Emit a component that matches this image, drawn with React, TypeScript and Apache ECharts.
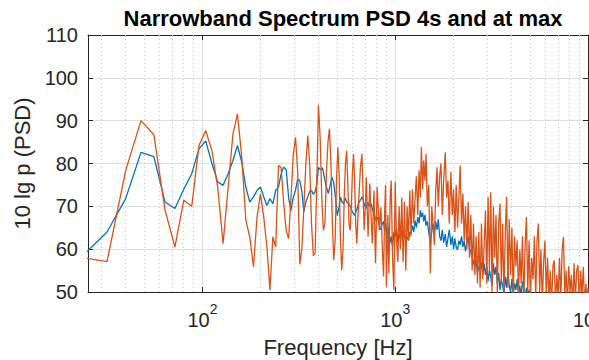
import React, { useEffect, useRef } from "react";
import * as echarts from "echarts";

const TITLE = "Narrowband Spectrum PSD 4s and at max";
const X_LABEL = "Frequency [Hz]";
const Y_LABEL = "10 lg p (PSD)";
const FONT = "'Liberation Sans', Arial, Helvetica, sans-serif";

const X_MIN = 25.5;
const X_MAX = 10000;
const Y_MIN = 50;
const Y_MAX = 110;
const Y_STEP = 10;

const minorGridFreqs = [30, 40, 50, 60, 70, 80, 90, 200, 300, 400, 500, 600, 700, 800, 900, 2000, 3000, 4000, 5000, 6000, 7000, 8000, 9000];

// PSD "4s" (blue): [frequency Hz, level dB]
const psd4s: [number, number][] = [
  [24, 58.5], [32, 64.0], [40, 71.8], [48, 82.6], [56, 81.6], [64, 71.0], [72, 69.5], [80, 74.0], [88, 77.6], [96, 83.4],
  [104, 85.3], [112, 80.0], [120, 75.7], [128, 74.9], [136, 77.6], [144, 80.7], [152, 84.2], [160, 80.3], [168, 74.5], [176, 71.0],
  [184, 72.2], [192, 73.7], [200, 74.5], [208, 72.2], [216, 70.2], [224, 71.8], [232, 70.6], [240, 73.7], [248, 74.5], [256, 77.6],
  [264, 79.1], [272, 78.6], [280, 72.0], [288, 69.0], [296, 72.2], [304, 73.7], [312, 76.4], [320, 76.0], [328, 73.5], [336, 68.7],
  [344, 71.0], [352, 72.2], [360, 73.5], [368, 73.7], [376, 72.8], [384, 73.4], [392, 75.2], [400, 79.1], [410, 78.5], [420, 79.0],
  [430, 76.5], [440, 74.5], [450, 73.0], [460, 75.0], [470, 76.8], [480, 75.5], [490, 72.0], [500, 67.9], [510, 69.5], [520, 72.2],
  [530, 71.0], [540, 70.6], [550, 72.0], [560, 71.0], [575, 70.6], [590, 69.5], [600, 68.7], [615, 67.9], [630, 69.1], [645, 70.6],
  [660, 71.5], [675, 72.2], [690, 70.6], [705, 69.5], [720, 71.0], [735, 70.0], [750, 70.6], [765, 69.1], [780, 68.0], [795, 66.7],
  [810, 67.5], [825, 65.5], [840, 64.5], [855, 65.8], [870, 66.5], [881, 64.4], [893, 66.0], [909, 62.0], [923, 65.0], [938, 61.3],
  [953, 63.0], [969, 60.5], [984, 64.0], [1000, 62.9], [1016, 65.0], [1032, 61.5], [1048, 63.5], [1065, 62.0], [1082, 64.4], [1099, 62.5],
  [1117, 63.7], [1135, 61.8], [1153, 63.0], [1171, 62.0], [1190, 64.0], [1209, 63.7], [1228, 65.5], [1248, 64.0], [1268, 66.7], [1288, 65.0],
  [1309, 67.5], [1330, 66.0], [1351, 69.1], [1367, 67.5], [1389, 68.5], [1406, 66.5], [1428, 68.0], [1445, 65.5], [1468, 66.5], [1492, 64.0],
  [1522, 61.5], [1546, 64.0], [1571, 66.0], [1596, 63.5], [1621, 66.5], [1647, 64.5], [1673, 67.0], [1700, 63.0], [1727, 62.0], [1755, 64.5],
  [1783, 61.5], [1818, 63.5], [1848, 60.5], [1877, 62.5], [1907, 64.5], [1945, 61.0], [1976, 63.0], [2008, 60.0], [2039, 62.5], [2072, 60.5],
  [2105, 59.8], [2139, 62.0], [2173, 61.0], [2208, 63.0], [2244, 60.5], [2279, 62.0], [2316, 59.5], [2353, 61.5], [2390, 63.0], [2429, 60.0],
  [2468, 59.4], [2507, 58.0], [2547, 57.0], [2588, 55.5], [2629, 57.5], [2671, 54.5], [2714, 56.0], [2757, 55.0], [2802, 57.0], [2846, 54.0],
  [2892, 56.7], [2938, 54.0], [2985, 56.0], [3032, 52.5], [3081, 55.1], [3130, 53.5], [3179, 51.5], [3230, 56.7], [3281, 54.0], [3333, 55.9],
  [3387, 52.0], [3441, 54.5], [3496, 50.5], [3551, 53.0], [3608, 51.5], [3665, 49.5], [3724, 53.6], [3783, 51.0], [3843, 55.0], [3904, 51.5],
  [3967, 50.0], [4030, 53.0], [4094, 49.0], [4159, 52.0], [4225, 50.5], [4292, 53.0], [4361, 49.5], [4430, 51.5], [4500, 49.0], [4572, 52.5],
  [4645, 50.5], [4719, 48.5], [4794, 51.0], [4870, 49.5], [4948, 50.5], [5026, 48.0], [5188, 46.0], [5439, 44.0], [5886, 42.0],
];

// PSD "at max" (orange): [frequency Hz, level dB]
const psdMax: [number, number][] = [
  [24, 58.0], [32, 57.1], [40, 78.4], [48, 90.0], [56, 86.7], [64, 69.1], [72, 60.5], [80, 71.4], [88, 70.0], [96, 84.2],
  [104, 87.7], [112, 83.0], [120, 74.5], [128, 61.3], [136, 74.5], [144, 86.9], [152, 91.6], [160, 81.5], [168, 66.7], [176, 62.9],
  [184, 55.9], [192, 67.5], [200, 72.9], [208, 67.5], [216, 60.5], [224, 50.5], [232, 62.9], [240, 60.5], [248, 79.5], [256, 79.1],
  [264, 70.6], [272, 64.4], [280, 62.5], [288, 72.0], [296, 82.0], [304, 86.1], [312, 78.0], [320, 56.5], [328, 60.0], [336, 70.0],
  [344, 80.0], [352, 86.5], [360, 80.0], [368, 66.0], [376, 58.5], [384, 59.0], [392, 76.0], [400, 93.7], [408, 86.0], [416, 72.0],
  [424, 64.4], [432, 66.0], [440, 78.0], [448, 85.0], [456, 88.1], [464, 80.0], [472, 66.0], [480, 57.4], [488, 62.0], [496, 76.0],
  [504, 83.8], [512, 77.0], [520, 62.0], [528, 55.1], [536, 60.0], [544, 72.0], [552, 80.0], [560, 83.0], [568, 75.0], [576, 66.0],
  [584, 64.4], [592, 70.0], [600, 78.0], [608, 82.2], [616, 76.0], [624, 66.0], [632, 61.3], [640, 67.0], [648, 72.0], [660, 79.0],
  [672, 82.2], [684, 70.0], [690, 64.4], [700, 70.0], [708, 76.8], [723, 62.9], [738, 75.3], [760, 61.3], [776, 73.7], [790, 56.7],
  [806, 74.5], [827, 64.4], [843, 69.8], [858, 60.0], [870, 53.6], [881, 68.0], [891, 75.0], [900, 51.2], [916, 68.0], [927, 54.3],
  [942, 72.0], [953, 76.0], [969, 58.0], [984, 50.5], [1000, 75.7], [1016, 62.0], [1032, 57.0], [1048, 70.0], [1065, 60.0], [1082, 72.0],
  [1099, 57.0], [1117, 71.0], [1135, 55.0], [1153, 70.0], [1171, 62.0], [1190, 73.7], [1209, 63.0], [1228, 74.0], [1248, 66.0], [1268, 72.0],
  [1288, 77.0], [1309, 68.0], [1330, 78.4], [1351, 72.0], [1367, 83.8], [1389, 74.0], [1406, 80.7], [1428, 76.0], [1445, 82.2], [1468, 70.0],
  [1492, 75.0], [1522, 54.3], [1546, 70.0], [1571, 66.0], [1596, 61.0], [1621, 73.0], [1647, 79.1], [1673, 70.0], [1700, 77.0], [1727, 80.0],
  [1755, 68.0], [1783, 76.0], [1818, 82.6], [1848, 72.0], [1877, 76.0], [1907, 66.0], [1945, 78.0], [1976, 68.0], [2008, 74.0], [2039, 64.0],
  [2072, 75.0], [2105, 65.0], [2139, 72.0], [2173, 79.5], [2208, 66.0], [2244, 73.0], [2279, 62.0], [2316, 70.0], [2353, 60.0], [2390, 71.0],
  [2429, 58.0], [2468, 68.0], [2507, 55.0], [2547, 66.0], [2588, 54.0], [2629, 63.0], [2671, 52.0], [2714, 64.0], [2757, 51.0], [2802, 66.0],
  [2846, 53.0], [2892, 61.0], [2938, 69.0], [2985, 52.0], [3032, 72.2], [3081, 55.0], [3130, 73.3], [3179, 50.0], [3230, 70.0], [3281, 58.0],
  [3333, 68.0], [3387, 49.0], [3441, 66.0], [3496, 70.6], [3551, 52.0], [3608, 66.0], [3665, 49.0], [3724, 64.0], [3783, 72.2], [3843, 51.0],
  [3904, 67.0], [3967, 54.0], [4030, 65.0], [4094, 48.0], [4159, 63.0], [4225, 56.0], [4292, 62.0], [4361, 49.0], [4430, 60.0], [4500, 52.0],
  [4572, 63.0], [4645, 47.0], [4719, 61.0], [4794, 67.5], [4870, 50.0], [4948, 62.0], [5026, 48.0], [5106, 58.0], [5188, 53.0], [5270, 63.0],
  [5354, 48.0], [5439, 62.0], [5526, 66.0], [5614, 50.0], [5703, 60.0], [5794, 47.0], [5886, 57.0], [5980, 62.0], [6075, 49.0], [6172, 58.0],
  [6270, 48.0], [6370, 55.0], [6471, 46.0], [6574, 56.0], [6679, 57.4], [6785, 47.0], [6893, 54.0], [7003, 49.0], [7114, 58.0], [7228, 48.0],
  [7343, 60.0], [7460, 62.9], [7578, 49.0], [7699, 55.0], [7822, 47.0], [7946, 56.0], [8073, 50.0], [8201, 54.0], [8332, 46.0], [8464, 56.7],
  [8599, 48.0], [8736, 55.0], [8875, 56.3], [9017, 47.0], [9160, 55.0], [9306, 49.0], [9454, 55.9], [9605, 47.0], [9758, 52.0], [9913, 46.0],
  [10000, 51.0],
];

const AXIS_COLOR = "#262626";
const GRID_COLOR = "#dedede";
const MINOR_GRID_COLOR = "#c4c4c4";

function powerLabel(v: number): string {
  const e = Math.log10(v);
  const r = Math.round(e);
  if (Math.abs(e - r) < 1e-6) return `{b|10}{s|${r}}`;
  return "";
}

export default function App() {
  const ref = useRef<HTMLDivElement>(null);
  useEffect(() => {
    const chart = echarts.init(ref.current!, null, { renderer: "svg" });
    const axisLine = { show: true, lineStyle: { color: AXIS_COLOR, width: 1 } };
    const tick = { show: true, inside: true, length: 5, lineStyle: { color: AXIS_COLOR } };
    chart.setOption({
      animation: false,
      backgroundColor: "#ffffff",
      textStyle: { fontFamily: FONT },
      title: {
        text: TITLE,
        left: 338,
        top: 2,
        textAlign: "center",
        textStyle: { fontFamily: FONT, fontSize: 22, fontWeight: "bold", color: "#000000" },
      },
      grid: { left: 88, right: 1, top: 35, bottom: 68, containLabel: false, outerBoundsMode: "none" },
      xAxis: [
        {
          type: "log",
          logBase: 10,
          min: X_MIN,
          max: X_MAX,
          position: "bottom",
          name: X_LABEL,
          nameLocation: "middle",
          nameGap: 44,
          nameTextStyle: { fontFamily: FONT, fontSize: 22, color: AXIS_COLOR },
          axisLine,
          axisTick: tick,
          axisLabel: {
            formatter: powerLabel,
            margin: 10,
            showMinLabel: true,
            showMaxLabel: true,
            hideOverlap: false,
            rich: {
              b: { fontFamily: FONT, fontSize: 20, color: AXIS_COLOR, verticalAlign: "bottom", lineHeight: 28 },
              s: { fontFamily: FONT, fontSize: 14, color: AXIS_COLOR, verticalAlign: "top", lineHeight: 28 },
            },
          },
          splitLine: { show: true, lineStyle: { color: GRID_COLOR, width: 1 } },
        },
        {
          type: "log",
          logBase: 10,
          min: X_MIN,
          max: X_MAX,
          position: "top",
          axisLine,
          axisTick: tick,
          axisLabel: { show: false },
          splitLine: { show: false },
        },
      ],
      yAxis: [
        {
          type: "value",
          min: Y_MIN,
          max: Y_MAX,
          interval: Y_STEP,
          position: "left",
          name: Y_LABEL,
          nameLocation: "middle",
          nameGap: 48,
          nameRotate: 90,
          nameTextStyle: { fontFamily: FONT, fontSize: 22, color: AXIS_COLOR },
          axisLine,
          axisTick: tick,
          axisLabel: { fontFamily: FONT, fontSize: 20, color: AXIS_COLOR, margin: 10 },
          splitLine: { show: true, lineStyle: { color: GRID_COLOR, width: 1 } },
        },
        {
          type: "value",
          min: Y_MIN,
          max: Y_MAX,
          interval: Y_STEP,
          position: "right",
          axisLine,
          axisTick: tick,
          axisLabel: { show: false },
          splitLine: { show: false },
        },
      ],
      series: [
        {
          name: "4s",
          type: "line",
          data: psd4s,
          showSymbol: false,
          symbol: "none",
          clip: true,
          z: 3,
          lineStyle: { color: "#0072BD", width: 1.3 },
          itemStyle: { color: "#0072BD" },
          markLine: {
            silent: true,
            symbol: "none",
            z: 1,
            label: { show: false },
            lineStyle: { type: [1, 3], color: MINOR_GRID_COLOR, width: 1 },
            data: minorGridFreqs.map((v) => ({ xAxis: v })),
          },
        },
        {
          name: "max",
          type: "line",
          data: psdMax,
          showSymbol: false,
          symbol: "none",
          clip: true,
          z: 4,
          lineStyle: { color: "#D95319", width: 1.3 },
          itemStyle: { color: "#D95319" },
        },
      ],
    });
    return () => chart.dispose();
  }, []);
  return <div ref={ref} style={{ position: "absolute", left: 0, top: 0, width: 589, height: 360 }} />;
}
